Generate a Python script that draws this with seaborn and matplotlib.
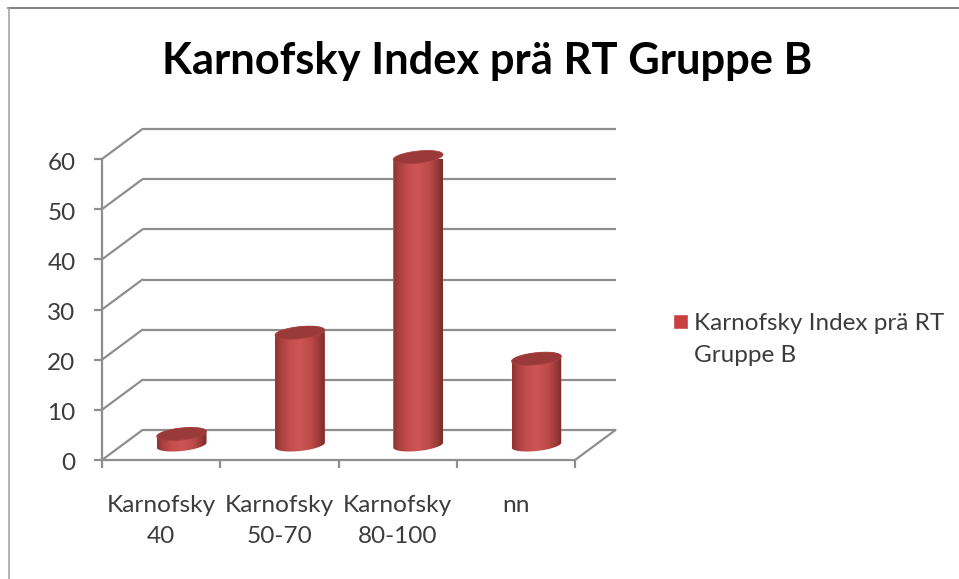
import numpy as np
import pandas as pd
import matplotlib
matplotlib.use("Agg")
import matplotlib.pyplot as plt
import seaborn as sns
from matplotlib.colors import LinearSegmentedColormap
from matplotlib.lines import Line2D
from matplotlib.patches import Polygon
from matplotlib.transforms import Affine2D, IdentityTransform

categories = ["Karnofsky\n40", "Karnofsky\n50-70", "Karnofsky\n80-100", "nn"]
values = [2.2, 22.4, 57.4, 17.2]
y_ticks = [0, 10, 20, 30, 40, 50, 60]
title = "Karnofsky Index prä RT Gruppe B"
series_name = "Karnofsky Index prä RT\nGruppe B"

W, H = 959, 579
GRID = "#8e8e8e"
TEXT = "#3c3c3c"

sns.set_theme(style="white")
plt.rcParams["font.family"] = ["Lato", "DejaVu Sans"]

fig = plt.figure(figsize=(W / 100, H / 100), dpi=100, facecolor="white")
ax = fig.add_axes([102 / W, (H - 460) / H, 473 / W, 301 / H])

df = pd.DataFrame({"group": categories, "value": values})
sns.barplot(data=df, x="group", y="value", color="#c8403f", saturation=1, width=0.42,
            label=series_name, ax=ax, zorder=3)
ax.set_xlim(-0.5, 3.5)
ax.set_ylim(0, 60)
ax.set_xlabel("")
ax.set_ylabel("")
ax.patch.set_alpha(0)

# back wall of the fake 3d box
wall = ax.transData + Affine2D().translate(40.5, 30)
ax.hlines(y_ticks, -0.5, 3.5, color=GRID, lw=1.6, transform=wall, clip_on=False, zorder=1)
for v in y_ticks:
    a = ax.transData.transform((-0.5, v))
    b = wall.transform((-0.5, v))
    fig.add_artist(Line2D([a[0], b[0]], [a[1], b[1]], color=GRID, lw=1.6, transform=IdentityTransform(), zorder=0.5))
a = ax.transData.transform((3.5, 0))
b = wall.transform((3.5, 0))
fig.add_artist(Line2D([a[0], b[0]], [a[1], b[1]], color=GRID, lw=1.6, transform=IdentityTransform(), zorder=0.5))

# axes
sns.despine(ax=ax)
for s in ["left", "bottom"]:
    ax.spines[s].set_color(GRID)
    ax.spines[s].set_linewidth(1.6)
ax.set_yticks(y_ticks)
ax.set_xticks([-0.5, 0.5, 1.5, 2.5, 3.5])
ax.set_xticklabels([])
ax.set_xticks(range(len(categories)), categories, minor=True)
ax.tick_params(axis="x", which="major", bottom=True, length=6, width=1.6, color=GRID)
ax.tick_params(axis="x", which="minor", bottom=False, length=0, pad=25.5, labelsize=17.6, labelcolor=TEXT)
ax.tick_params(axis="y", left=True, length=6, width=1.6, color=GRID, pad=13, labelsize=17.5, labelcolor=TEXT)
for lab in ax.get_xticklabels(minor=True):
    lab.set_linespacing(1.55)
for lab in ax.get_yticklabels():
    lab.set_transform(lab.get_transform() + Affine2D().translate(0, -2))

# cylinders, built on the bars seaborn drew
body = LinearSegmentedColormap.from_list("body", [
    (0, "#8c3432"), (0.1, "#a83f3d"), (0.3, "#c44e4d"), (0.5, "#cd5555"),
    (0.72, "#bd4b49"), (0.88, "#9c3b39"), (1, "#7c2c2a")])
shift = ax.transData + Affine2D().translate(20.5, 15)
t1 = np.linspace(np.pi, 2 * np.pi, 60)
t2 = np.linspace(0, np.pi, 60)
t3 = np.linspace(0, 2 * np.pi, 120)
b_semi, skew = 6.0, 2.5

for bar in ax.patches:
    x0, y0 = shift.transform((bar.get_x(), 0))
    x1, y1 = shift.transform((bar.get_x() + bar.get_width(), bar.get_height()))
    cx, a_semi = (x0 + x1) / 2, (x1 - x0) / 2
    low = np.c_[cx + a_semi * np.cos(t1), y0 + b_semi * np.sin(t1) + skew * np.cos(t1)]
    up = np.c_[cx + a_semi * np.cos(t2), y1 + b_semi * np.sin(t2) + skew * np.cos(t2)]
    outline = Polygon(np.r_[low, up], closed=True, transform=IdentityTransform())

    bar.set_transform(shift)
    bar.set_clip_path(outline)

    im = ax.imshow(np.linspace(0, 1, 100).reshape(1, -1), cmap=body, aspect="auto",
                   extent=[x0, x1, y0 - 12, y1 + 12], transform=IdentityTransform(), zorder=4)
    im.set_clip_path(outline)

    top = np.c_[cx + a_semi * np.cos(t3), y1 + b_semi * np.sin(t3) + skew * np.cos(t3)]
    ax.add_patch(Polygon(top, closed=True, facecolor="#9a3a38", edgecolor="#a8423f", lw=0.6,
                         transform=IdentityTransform(), zorder=5, clip_on=False))

ax.set_xlim(-0.5, 3.5)
ax.set_ylim(0, 60)

leg = ax.legend(loc="upper left", bbox_to_anchor=(673 / W, (H - 313) / H), bbox_transform=fig.transFigure,
                frameon=False, fontsize=17.5, labelcolor=TEXT, handlelength=0.62, handleheight=0.62,
                handletextpad=0.25, borderpad=0, borderaxespad=0, labelspacing=0)
for txt in leg.get_texts():
    txt.set_linespacing(1.67)
# keep the swatch next to the first line of the label
for h in leg.legend_handles:
    h.set_y(h.get_y() + 13)

fig.text(487 / W, (H - 74) / H, title, ha="center", va="baseline", fontsize=31.3, fontweight="bold", color="black")

# frame of the pasted chart, only top and left are visible
fig.add_artist(Line2D([8 / W, 1], [(H - 8) / H, (H - 8) / H], color="#858585", lw=1.5))
fig.add_artist(Line2D([8.5 / W, 8.5 / W], [0, (H - 8) / H], color="#a5a5a5", lw=1.2))

fig.savefig("out.png", dpi=100)
